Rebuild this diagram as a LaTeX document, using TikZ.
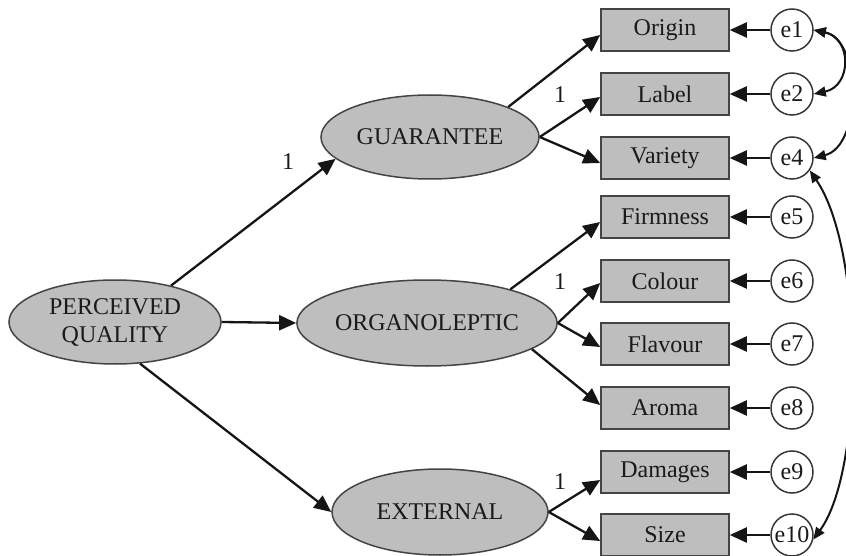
\documentclass[tikz,border=0pt]{standalone}
\usepackage{fontspec}
\setmainfont{Liberation Serif}
\usetikzlibrary{shapes.geometric,arrows.meta}
\definecolor{fillgray}{HTML}{BEBEBE}
\definecolor{linegray}{HTML}{151515}
\definecolor{txtgray}{HTML}{1A1A1A}
\begin{document}
\begin{tikzpicture}[x=1pt,y=-1pt,
  font=\fontsize{24}{30}\selectfont,
  every node/.style={text=txtgray},
  obsbox/.style={draw=linegray!80, line width=1.6pt, fill=fillgray, minimum width=128pt, minimum height=42pt, inner sep=0pt},
  latent/.style={ellipse, draw=linegray!80, line width=1.5pt, fill=fillgray, inner sep=0pt, align=center},
  errc/.style={circle, draw=linegray!85, line width=1.5pt, fill=white, minimum size=42pt, inner sep=0pt},
  arr/.style={draw=linegray, line width=2.3pt, -{Triangle[length=17pt,width=15pt]}},
  cov/.style={draw=linegray, line width=2pt, {Triangle[length=12pt,width=10pt]}-{Triangle[length=12pt,width=10pt]}},
  onelab/.style={inner sep=0pt}
]
\useasboundingbox (0,0) rectangle (846,556);

% latent variables
\node[latent, minimum width=212pt, minimum height=84pt] (pq) at (115,322) {PERCEIVED\\[-2pt]QUALITY};
\node[latent, minimum width=218pt, minimum height=84pt] (guar) at (430,137) {GUARANTEE};
\node[latent, minimum width=244pt, minimum height=86pt] (org) at (427,323) {ORGANOLEPTIC};
\node[latent, minimum width=216pt, minimum height=86pt] (ext) at (440,512) {EXTERNAL};

% observed variables
\node[obsbox] (origin)  at (665,30)  {Origin};
\node[obsbox] (label)   at (665,94)  {Label};
\node[obsbox] (variety) at (665,158) {Variety};
\node[obsbox] (firm)    at (665,217) {Firmness};
\node[obsbox] (colour)  at (665,281) {Colour};
\node[obsbox] (flavour) at (665,344) {Flavour};
\node[obsbox] (aroma)   at (665,408) {Aroma};
\node[obsbox] (damages) at (665,472) {Damages};
\node[obsbox] (size)    at (665,535) {Size};

% error terms
\node[errc] (e1)  at (792,30)  {e1};
\node[errc] (e2)  at (792,94)  {e2};
\node[errc] (e4)  at (792,158) {e4};
\node[errc] (e5)  at (792,217) {e5};
\node[errc] (e6)  at (792,281) {e6};
\node[errc] (e7)  at (792,344) {e7};
\node[errc] (e8)  at (792,408) {e8};
\node[errc] (e9)  at (792,472) {e9};
\node[errc] (e10) at (792,535) {e10};

% structural paths
\draw[arr] (pq.33) -- (guar.193);
\draw[arr] (pq.east) -- (org.west);
\draw[arr] (pq.301) -- (ext.west);

% loadings
\draw[arr] (guar.21) -- ([yshift=-5pt]origin.west);
\draw[arr] (guar.east) -- ([yshift=-3pt]label.west);
\draw[arr] (guar.east) -- ([yshift=-5pt]variety.west);

\draw[arr] (org.22) -- ([yshift=-5pt]firm.west);
\draw[arr] (org.east) -- ([yshift=-2pt]colour.west);
\draw[arr] (org.east) -- ([yshift=-3pt]flavour.west);
\draw[arr] (org.346) -- ([yshift=3pt]aroma.west);

\draw[arr] (ext.east) -- ([yshift=-8pt]damages.west);
\draw[arr] (ext.east) -- ([yshift=-6pt]size.west);

% error arrows
\foreach \e/\b in {e1/origin,e2/label,e4/variety,e5/firm,e6/colour,e7/flavour,e8/aroma,e9/damages,e10/size}
  \draw[arr] (\e.west) -- (\b.east);

% covariances
\draw[cov] (e1.east) .. controls (852,38) and (852,86) .. (e2.east);
\draw[cov] (e1.east) .. controls (862,40) and (862,146) .. (e4.east);
\draw[cov] (e4.-35) .. controls (864,250) and (864,470) .. (e10.-12);

% fixed loadings
\node[onelab] (l1) at (288,162) {1};
\node[onelab] (l2) at (560,95) {1};
\node[onelab] (l3) at (560,282) {1};
\node[onelab] (l4) at (560,482) {1};
\end{tikzpicture}
\end{document}
